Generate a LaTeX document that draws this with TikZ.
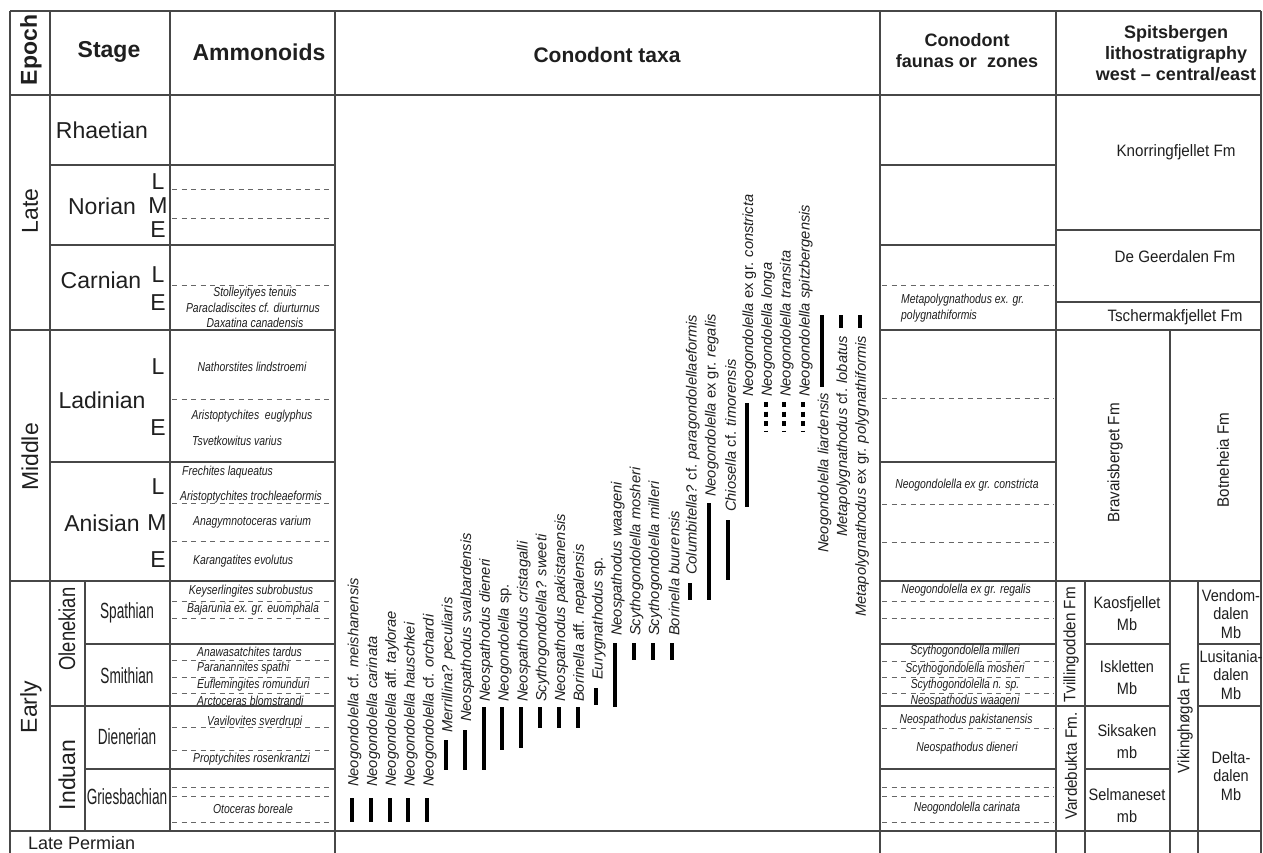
\documentclass[tikz,border=0pt]{standalone}
\usepackage{fontspec}
\setmainfont{Liberation Sans}
\newfontfamily\narrowfont[FakeStretch=0.62]{Liberation Sans}
\newfontfamily\condfont[FakeStretch=0.8]{Liberation Sans}
\newfontfamily\fmfont[FakeStretch=0.88]{Liberation Sans}
\newfontfamily\fmwide[FakeStretch=0.92]{Liberation Sans}
\newcommand\myfs[1]{\fontsize{#1}{#1}\selectfont}
\tikzset{
  tline/.style={draw=black!72, line width=1.1pt},
  subdash/.style={draw=black!60, line width=0.75pt, dash pattern=on 5pt off 4.5pt},
  rangebar/.style={draw=black, line width=4pt},
  dotbar/.style={draw=black, line width=4pt, dash pattern=on 5pt off 4.5pt},
  lbl/.style={inner sep=0pt, text=black!88},
  hdrL/.style={lbl, font=\bfseries\myfs{23}},
  hdrR/.style={lbl, font=\bfseries\fontsize{18}{21}\selectfont, align=center},
  big/.style={lbl, font=\myfs{23}},
  subst/.style={lbl, font=\narrowfont\myfs{22}},
  amm/.style={lbl, font=\condfont\itshape\myfs{13}},
  fm/.style={lbl, font=\fmwide\fontsize{16.5}{22}\selectfont, align=center},
  mb/.style={lbl, font=\fmfont\fontsize{16.5}{22}\selectfont, align=center},
  mbr/.style={lbl, font=\fmfont\fontsize{16.5}{18.5}\selectfont, align=center},
  taxon/.style={lbl, font=\myfs{14.7}, rotate=90, anchor=west},
}
\newcommand\taxon[6]{%
  \node[taxon] (#1) at (#2+2.5,#3) {#6};
  \draw[rangebar] (#2,#4) -- (#2,#5);}
\begin{document}
\begin{tikzpicture}[x=1pt,y=-1pt]
\useasboundingbox (0,0) rectangle (1263,853);
\fill[white] (0,0) rectangle (1263,853);

% ---------- dashed sub-divisions ----------
\foreach \yy in {189,218,285,399,503,541,601,618,660,677,693,727,750,787,796,822}
  \draw[subdash] (172,\yy) -- (333,\yy);
\foreach \yy in {285,398,504,542,601,618,661,677,693,728,787,796,822}
  \draw[subdash] (882,\yy) -- (1054,\yy);

% ---------- table lines ----------
\draw[tline] (10,11) -- (1261,11);
\draw[tline] (10,95) -- (1261,95);
\draw[tline] (10,11) -- (10,853);
\draw[tline] (50,11) -- (50,831);
\draw[tline] (170,11) -- (170,831);
\draw[tline] (335,11) -- (335,853);
\draw[tline] (880,11) -- (880,853);
\draw[tline] (1056,11) -- (1056,853);
\draw[tline] (1261,11) -- (1261,853);
\draw[tline] (85,581) -- (85,831);
\draw[tline] (1170,330) -- (1170,853);
\draw[tline] (1085,581) -- (1085,853);
\draw[tline] (1198,581) -- (1198,853);
\draw[tline] (50,165) -- (335,165) (880,165) -- (1056,165);
\draw[tline] (50,245) -- (335,245) (880,245) -- (1056,245);
\draw[tline] (1056,230) -- (1261,230);
\draw[tline] (1056,302) -- (1261,302);
\draw[tline] (10,330) -- (335,330) (880,330) -- (1261,330);
\draw[tline] (50,462) -- (335,462) (880,462) -- (1056,462);
\draw[tline] (10,581) -- (335,581) (880,581) -- (1261,581);
\draw[tline] (85,644) -- (335,644) (880,644) -- (1056,644) (1085,644) -- (1170,644) (1198,644) -- (1261,644);
\draw[tline] (50,706) -- (335,706) (880,706) -- (1170,706) (1198,706) -- (1261,706);
\draw[tline] (85,769) -- (335,769) (880,769) -- (1056,769) (1085,769) -- (1170,769);
\draw[tline] (10,831) -- (1261,831);

% ---------- headers ----------
\node[hdrL, rotate=90] (hEpoch) at (31,50) {Epoch};
\node[hdrL] (hStage) at (109,52) {Stage};
\node[hdrL] (hAmm) at (259,52) {Ammonoids};
\node[hdrL, font=\bfseries\myfs{21}] (hCono) at (607,55) {Conodont taxa};
\node[hdrR] (hFauna) at (967,51) {Conodont\\faunas or\ \ zones};
\node[hdrR] (hSpits) at (1176,53) {Spitsbergen\\lithostratigraphy\\west -- central/east};

% ---------- epochs ----------
\node[big, rotate=90] (eLate) at (30,211) {Late};
\node[big, rotate=90] (eMiddle) at (30,457) {Middle};
\node[big, rotate=90] (eEarly) at (31,707) {Early};
\node[big, rotate=90, font=\condfont\myfs{23}] (sOlen) at (67,629) {Olenekian};
\node[big, rotate=90] (sInd) at (67,775) {Induan};

% ---------- stages ----------
\node[big] (sRha) at (102,130) {Rhaetian};
\node[big] (sNor) at (102,206) {Norian};
\node[big] (sCar) at (101,280) {Carnian};
\node[big] (sLad) at (102,400) {Ladinian};
\node[big] (sAni) at (102,523) {Anisian};
\node[big] (nL) at (158,182) {L};
\node[big] (nM) at (158,206) {M};
\node[big] (nE) at (158,230) {E};
\node[big] (cL) at (158,275) {L};
\node[big] (cE) at (158,303) {E};
\node[big] (lL) at (158,367) {L};
\node[big] (lE) at (158,428) {E};
\node[big] (aL) at (158,487) {L};
\node[big] (aM) at (157,523) {M};
\node[big] (aE) at (158,560) {E};
\node[subst] (ssSpa) at (127,613) {Spathian};
\node[subst] (ssSmi) at (127,676) {Smithian};
\node[subst] (ssDie) at (127,737) {Dienerian};
\node[subst] (ssGri) at (127,797) {Griesbachian};
\node[lbl, font=\myfs{18}, anchor=west] (lPerm) at (28,843) {Late Permian};

% ---------- ammonoids ----------
\node[amm] (a1) at (255,293) {Stolleyityes tenuis};
\node[amm] (a2) at (253,308) {Paracladiscites cf. diurturnus};
\node[amm] (a3) at (255,323) {Daxatina canadensis};
\node[amm] (a4) at (252,367) {Nathorstites lindstroemi};
\node[amm] (a5) at (252,416) {Aristoptychites\ \ euglyphus};
\node[amm, anchor=west] (a6) at (192,441) {Tsvetkowitus varius};
\node[amm, anchor=west] (a7) at (182,472) {Frechites laqueatus};
\node[amm, anchor=west] (a8) at (180,497) {Aristoptychites trochleaeformis};
\node[amm, anchor=west] (a9) at (193,522) {Anagymnotoceras varium};
\node[amm, anchor=west] (a10) at (193,561) {Karangatites evolutus};
\node[amm] (a11) at (251,591) {Keyserlingites subrobustus};
\node[amm] (a12) at (253,609) {Bajarunia ex. gr. euomphala};
\node[amm, anchor=west] (a13) at (197,652) {Anawasatchites tardus};
\node[amm, anchor=west] (a14) at (197,668) {Paranannites spathi};
\node[amm, anchor=west] (a15) at (197,685) {Euflemingites romunduri};
\node[amm, anchor=west] (a16) at (197,701) {Arctoceras blomstrandi};
\node[amm, anchor=west] (a17) at (207,722) {Vavilovites sverdrupi};
\node[amm, anchor=west] (a18) at (193,759) {Proptychites rosenkrantzi};
\node[amm] (a19) at (253,809) {Otoceras boreale};

% ---------- conodont taxa ----------
\taxon{t1}{352}{787}{798}{822}{\textit{Neogondolella} cf. \textit{meishanensis}}
\taxon{t2}{370.8}{787}{798}{822}{\textit{Neogondolella carinata}}
\taxon{t3}{389.6}{787}{798}{822}{\textit{Neogondolella} aff. \textit{taylorae}}
\taxon{t4}{408.4}{787}{798}{822}{\textit{Neogondolella hauschkei}}
\taxon{t5}{427.2}{787}{798}{822}{\textit{Neogondolella} cf. \textit{orchardi}}
\taxon{t6}{446}{733}{740}{770}{\textit{Merrillina? peculiaris}}
\taxon{t7}{464.8}{722}{730}{770}{\textit{Neospathodus svalbardensis}}
\taxon{t8}{483.6}{702}{707}{770}{\textit{Neospathodus dieneri}}
\taxon{t9}{502.4}{702}{707}{750}{\textit{Neogondolella} sp.}
\taxon{t10}{521.2}{702}{707}{748}{\textit{Neospathodus cristagalli}}
\taxon{t11}{540}{702}{707}{728}{\textit{Scythogondolella? sweeti}}
\taxon{t12}{558.8}{702}{707}{728}{\textit{Neospathodus pakistanensis}}
\taxon{t13}{577.6}{702}{707}{728}{\textit{Borinella} aff. \textit{nepalensis}}
\taxon{t14}{596.4}{680}{688}{705}{\textit{Eurygnathodus} sp.}
\taxon{t15}{615.2}{636}{643}{707}{\textit{Neospathodus waageni}}
\taxon{t16}{634}{636}{643}{660}{\textit{Scythogondolella mosheri}}
\taxon{t17}{652.8}{636}{643}{660}{\textit{Scythogondolella milleri}}
\taxon{t18}{671.6}{636}{643}{660}{\textit{Borinella buurensis}}
\taxon{t19}{690.4}{575}{583}{600}{\textit{Columbitella?} cf. \textit{paragondolellaeformis}}
\taxon{t20}{709.2}{497}{503}{600}{\textit{Neogondolella} ex gr. \textit{regalis}}
\taxon{t21}{728}{512}{520}{580}{\textit{Chiosella} cf. \textit{timorensis}}
\taxon{t22}{746.8}{397}{403}{507}{\textit{Neogondolella} ex gr. \textit{constricta}}
\node[taxon] (t23) at (768.1,397) {\textit{Neogondolella longa}};
\node[taxon] (t24) at (786.9,397) {\textit{Neogondolella transita}};
\node[taxon] (t25) at (805.7,397) {\textit{Neogondolella spitzbergensis}};
\draw[dotbar] (765.6,402) -- (765.6,431);
\draw[dotbar] (784.4,402) -- (784.4,431);
\draw[dotbar] (803.2,402) -- (803.2,431);
\taxon{t26}{822}{553}{315}{387}{\textit{Neogondolella liardensis}}
\taxon{t27}{840.8}{537}{315}{328}{\textit{Metapolygnathodus} cf. \textit{lobatus}}
\taxon{t28}{859.6}{617}{315}{328}{\textit{Metapolygnathodus} ex gr. \textit{polygnathiformis}}

% ---------- conodont faunas ----------
\node[amm, anchor=west, align=left, font=\condfont\itshape\fontsize{13}{16}\selectfont] (f1) at (901,308) {Metapolygnathodus ex. gr.\\polygnathiformis};
\node[amm] (f2) at (967,485) {Neogondolella ex gr. constricta};
\node[amm] (f3) at (966,590) {Neogondolella ex gr. regalis};
\node[amm] (f4) at (965,651) {Scythogondolella milleri};
\node[amm] (f5) at (965,669) {Scythogondolella mosheri};
\node[amm] (f6) at (965,685) {Scythogondolella n. sp.};
\node[amm] (f7) at (965,701) {Neospathodus waageni};
\node[amm] (f8) at (966,720) {Neospathodus pakistanensis};
\node[amm] (f9) at (967,748) {Neospathodus dieneri};
\node[amm] (f10) at (967,808) {Neogondolella carinata};

% ---------- Spitsbergen lithostratigraphy ----------
\node[fm] (k1) at (1176,152) {Knorringfjellet Fm};
\node[fm] (k2) at (1175,257) {De Geerdalen Fm};
\node[fm] (k3) at (1175,317) {Tschermakfjellet Fm};
\node[fm, rotate=90] (k4) at (1115,463) {Bravaisberget Fm};
\node[fm, rotate=90] (k5) at (1223,460) {Botneheia Fm};
\node[fm, rotate=90] (k6) at (1071,645) {Tvillingodden Fm};
\node[fm, rotate=90] (k7) at (1071,766) {Vardebukta Fm.};
\node[fm, rotate=90] (k8) at (1185,718) {Vikinghøgda Fm};
\node[mb] (m1) at (1127,614) {Kaosfjellet\\Mb};
\node[mb] (m2) at (1127,678) {Iskletten\\Mb};
\node[mb] (m3) at (1127,742) {Siksaken\\mb};
\node[mb] (m4) at (1127,806) {Selmaneset\\mb};
\node[mbr] (m5) at (1231,614) {Vendom-\\dalen\\Mb};
\node[mbr] (m6) at (1231,675) {Lusitania-\\dalen\\Mb};
\node[mbr] (m7) at (1231,776) {Delta-\\dalen\\Mb};
\end{tikzpicture}
\end{document}
